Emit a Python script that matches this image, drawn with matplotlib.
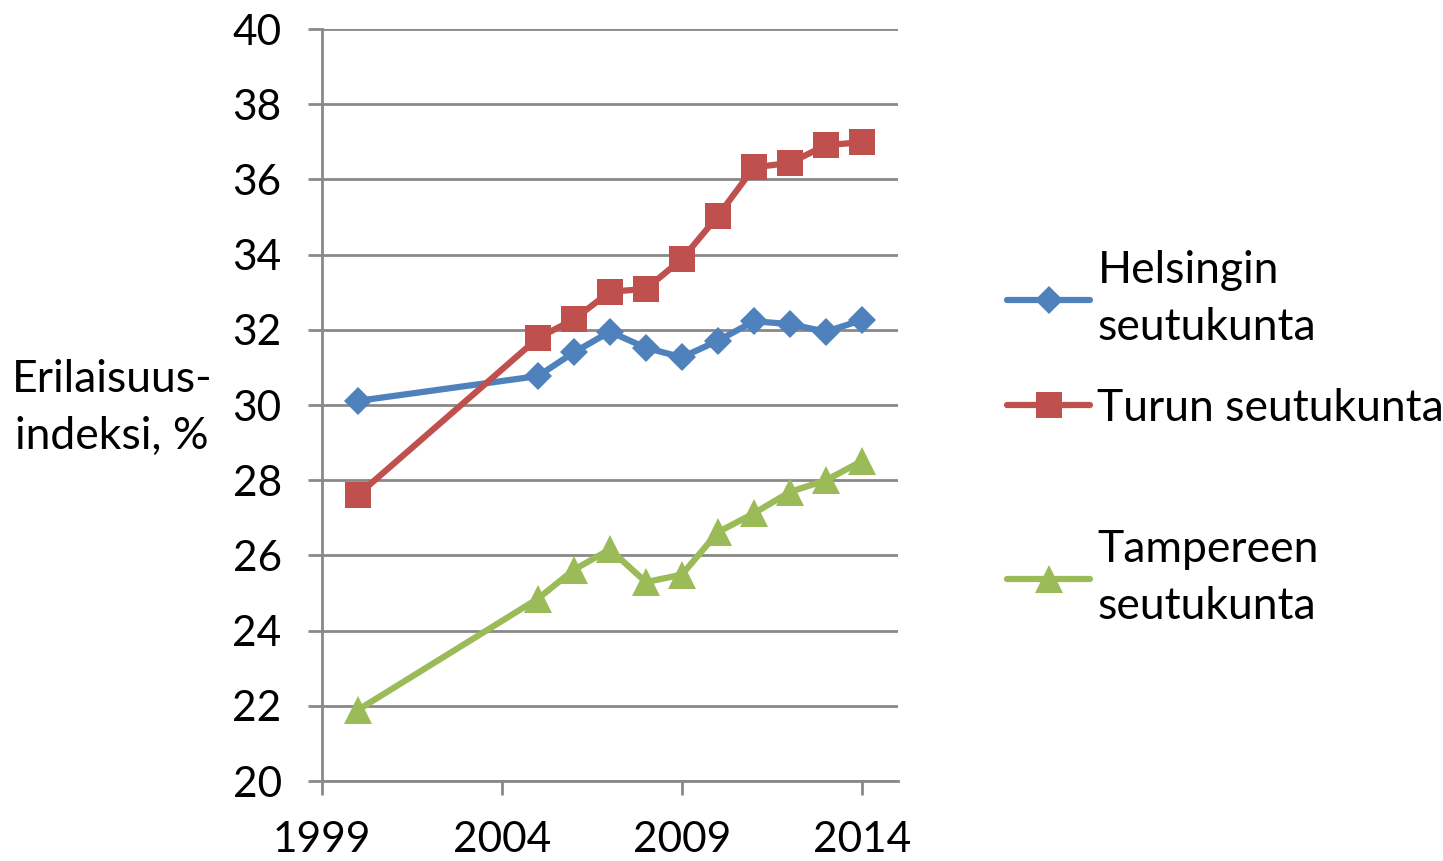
import matplotlib
matplotlib.use("Agg")
import matplotlib.pyplot as plt
from matplotlib.lines import Line2D

plt.rcParams['font.family'] = ['Lato', 'DejaVu Sans']

years_helsinki = [2000, 2005, 2006, 2007, 2008, 2009, 2010, 2011, 2012, 2013, 2014]
helsinki = [30.11, 30.77, 31.40, 31.95, 31.52, 31.27, 31.71, 32.23, 32.15, 31.95, 32.26]

years_turku = [2000, 2005, 2006, 2007, 2008, 2009, 2010, 2011, 2012, 2013, 2014]
turku = [27.61, 31.78, 32.28, 33.01, 33.09, 33.88, 35.03, 36.32, 36.44, 36.91, 36.99]

years_tampere = [2000, 2005, 2006, 2007, 2008, 2009, 2010, 2011, 2012, 2013, 2014]
tampere = [21.89, 24.85, 25.62, 26.16, 25.29, 25.49, 26.62, 27.12, 27.69, 28.0, 28.51]

labels = ["Helsingin\nseutukunta", "Turun seutukunta", "Tampereen\nseutukunta"]
colors = ["#4F81BD", "#C0504D", "#9BBB59"]
markers = ["D", "s", "^"]
msizes = [14, 19, 20]

x_ticks = [1999, 2004, 2009, 2014]
y_ticks = list(range(20, 41, 2))

fig = plt.figure(figsize=(14.43, 8.61), dpi=100)
ax = fig.add_axes([0.2231, 0.0929, 0.3992, 0.8734])

series = [(years_helsinki, helsinki), (years_turku, turku), (years_tampere, tampere)]
for (xs, ys), c, m, ms in zip(series, colors, markers, msizes):
    ax.plot(xs, ys, color=c, linewidth=4.5, marker=m, markersize=ms,
            markeredgewidth=0, solid_capstyle="round", zorder=3)

ax.set_xlim(1999, 2015)
ax.set_ylim(20, 40)
ax.set_xticks(x_ticks)
ax.set_yticks(y_ticks)
ax.yaxis.grid(True, color="#898989", linewidth=2)
ax.set_axisbelow(True)

for s in ["top", "right"]:
    ax.spines[s].set_visible(False)
for s in ["left", "bottom"]:
    ax.spines[s].set_color("#898989")
    ax.spines[s].set_linewidth(2)

ax.tick_params(axis="both", colors="#898989", width=2, length=10,
               labelcolor="black", labelsize=30.5)
ax.tick_params(axis="y", pad=19)
ax.tick_params(axis="x", pad=19)

fig.text(0.0776, 0.526, "Erilaisuus-\nindeksi, %", ha="center", va="center",
         fontsize=32, linespacing=1.47)

# legend entries placed one by one, spacing is uneven in the original
legend_y = [0.6527, 0.526, 0.3287]
for lab, c, m, ms, ly in zip(labels, colors, markers, msizes, legend_y):
    h = Line2D([], [], color=c, linewidth=4.5, marker=m, markersize=ms,
               markeredgewidth=0, solid_capstyle="round")
    leg = fig.legend([h], [lab], loc="center left", bbox_to_anchor=(0.698, ly),
                     frameon=False, fontsize=32, handlelength=1.87,
                     handletextpad=0.16, borderpad=0, borderaxespad=0)
    for t in leg.get_texts():
        t.set_linespacing(1.47)

fig.savefig("out.png", dpi=100)
